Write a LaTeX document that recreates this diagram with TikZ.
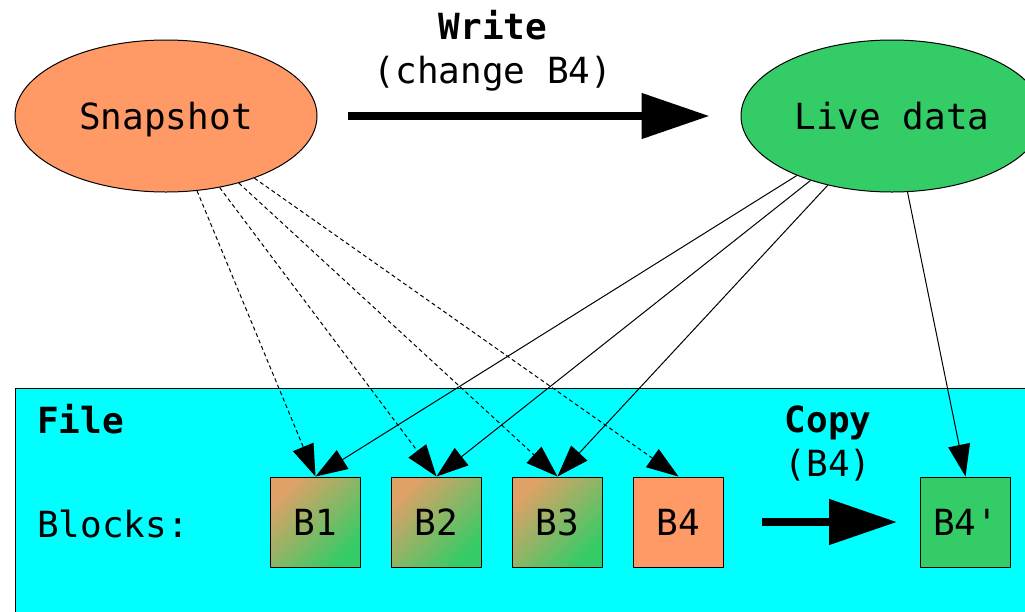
\documentclass[tikz,border=0pt]{standalone}
\usepackage{fontspec}
\setmainfont{DejaVu Sans Mono}[Ligatures=TeXOff]
\usepackage{xcolor}
\usepackage{tikz}
\usetikzlibrary{arrows.meta,positioning,shapes.geometric}
\definecolor{snapcol}{HTML}{FF9966}
\definecolor{livecol}{HTML}{33CC66}
\definecolor{filecol}{RGB}{0,255,255}

\begin{document}
\begin{tikzpicture}[x=1pt,y=-1pt,font=\fontsize{36}{44}\selectfont,
 view/.style={draw,ellipse,line width=1pt,inner sep=0pt,text depth=0pt,minimum width=302pt,minimum height=152pt},
 blk/.style={draw,line width=1pt,minimum size=90pt,inner sep=0pt},
 mixed/.style={blk,top color=snapcol!85!livecol,bottom color=livecol,shading angle=45},
 lbl/.style={inner sep=0pt},
 ptr/.style={-{Triangle[length=32pt,width=22pt]},line width=1pt},
 big/.style={-{Triangle[length=68pt,width=44pt]},line width=8pt}]
\clip (0,0) rectangle (1025,611);
\fill[white] (0,0) rectangle (1025,611);
\draw[fill=filecol,line width=1pt] (15,388) rectangle (1060,640);
\node[view,fill=snapcol] (snap) at (166,116) {Snapshot};
\node[view,fill=livecol] (live) at (892,116) {Live data};
\node[lbl,anchor=base] (wr) at (493,39) {\bfseries Write};
\node[lbl,anchor=base] (wrwhat) at (493,83) {(change B4)};
\node[lbl,anchor=base west] (file) at (37,433) {\bfseries File};
\node[lbl,anchor=base west] (blocks) at (37,537) {Blocks:};
\node[mixed] (b1) at (315.5,522) {B1};
\node[mixed,right=30pt of b1] (b2) {B2};
\node[mixed,right=30pt of b2] (b3) {B3};
\node[blk,fill=snapcol,right=30pt of b3] (b4) {B4};
\node[blk,fill=livecol,right=196pt of b4] (b4c) {B4'};
\node[lbl,anchor=base] (cp) at (828,432) {\bfseries Copy};
\node[lbl,anchor=base] (cpwhat) at (828,476) {(B4)};
\draw[big,shorten <=30pt,shorten >=31pt] (snap) -- (live);
\draw[big,shorten <=38pt,shorten >=23pt] (b4) -- (b4c);
% old view keeps pointing at the shared blocks
\foreach \b in {b1,b2,b3,b4}
  \draw[ptr,dash pattern=on 4pt off 3pt] (snap) -- (\b.north);
% live view
\foreach \b in {b1,b2,b3,b4c}
  \draw[ptr] (live) -- (\b.north);
\end{tikzpicture}
\end{document}
